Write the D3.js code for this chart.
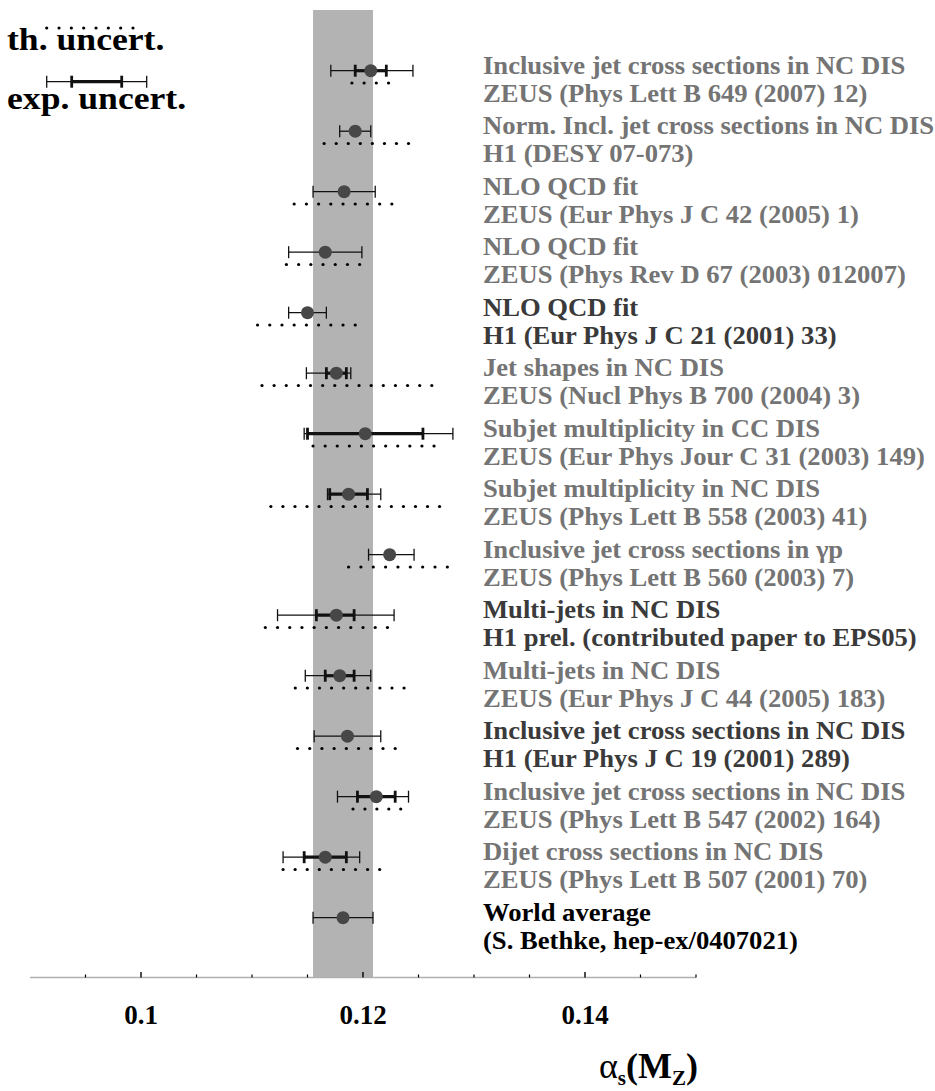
<!DOCTYPE html>
<html>
<head>
<meta charset="utf-8">
<script src="https://cdn.jsdelivr.net/npm/d3@7"></script>
<style>
  body { margin: 0; background: #fff; }
  text { font-family: "Liberation Serif", "Times New Roman", serif; font-weight: bold; }
</style>
</head>
<body>
<div id="chart"></div>
<script>
// measurements, top to bottom
const titles = [
  "Inclusive jet cross sections in NC DIS",
  "Norm. Incl. jet cross sections in NC DIS",
  "NLO QCD fit",
  "NLO QCD fit",
  "NLO QCD fit",
  "Jet shapes in NC DIS",
  "Subjet multiplicity in CC DIS",
  "Subjet multiplicity in NC DIS",
  "Inclusive jet cross sections in \u03b3p",
  "Multi-jets in NC DIS",
  "Multi-jets in NC DIS",
  "Inclusive jet cross sections in NC DIS",
  "Inclusive jet cross sections in NC DIS",
  "Dijet cross sections in NC DIS",
  "World average"
];
const sources = [
  "ZEUS (Phys Lett B 649 (2007) 12)",
  "H1 (DESY 07-073)",
  "ZEUS (Eur Phys J C 42 (2005) 1)",
  "ZEUS (Phys Rev D 67 (2003) 012007)",
  "H1 (Eur Phys J C 21 (2001) 33)",
  "ZEUS (Nucl Phys B 700 (2004) 3)",
  "ZEUS (Eur Phys Jour C 31 (2003) 149)",
  "ZEUS (Phys Lett B 558 (2003) 41)",
  "ZEUS (Phys Lett B 560 (2003) 7)",
  "H1 prel. (contributed paper to EPS05)",
  "ZEUS (Eur Phys J C 44 (2005) 183)",
  "H1 (Eur Phys J C 19 (2001) 289)",
  "ZEUS (Phys Lett B 547 (2002) 164)",
  "ZEUS (Phys Lett B 507 (2001) 70)",
  "(S. Bethke, hep-ex/0407021)"
];
const rowKind = ["zeus", "h1new", "zeus", "zeus", "h1", "zeus", "zeus", "zeus",
  "zeus", "h1", "zeus", "h1", "zeus", "zeus", "average"];

const alphaS = [0.1207, 0.1193, 0.1183, 0.1166, 0.1150, 0.1176, 0.1202, 0.1187,
  0.1224, 0.1176, 0.1179, 0.1186, 0.1212, 0.1166, 0.1182];
// total experimental uncertainty (outer thin bar)
const expLow = [0.1171, 0.1179, 0.1155, 0.1133, 0.1133, 0.1149, 0.1147, 0.1168,
  0.1205, 0.1123, 0.1148, 0.1156, 0.1177, 0.1128, 0.1155];
const expHigh = [0.1245, 0.1207, 0.1211, 0.1199, 0.1167, 0.1189, 0.1281, 0.1216,
  0.1246, 0.1228, 0.1207, 0.1216, 0.1241, 0.1197, 0.1209];
// statistical part (inner thick bar), null when not shown
const statLow = [0.1193, null, null, null, null, 0.1167, 0.1150, 0.1170,
  null, 0.1158, 0.1166, null, 0.1195, 0.1147, null];
const statHigh = [0.1221, null, null, null, null, 0.1185, 0.1254, 0.1204,
  null, 0.1192, 0.1192, null, 0.1229, 0.1185, null];
// theoretical uncertainty (dotted)
const thLow = [0.1190, 0.1165, 0.1138, 0.1131, 0.1105, 0.1109, 0.1155, 0.1117,
  0.1187, 0.1112, 0.1139, 0.1141, 0.1191, 0.1128, null];
const thHigh = [0.1223, 0.1241, 0.1226, 0.1197, 0.1193, 0.1262, 0.1264, 0.1269,
  0.1276, 0.1222, 0.1237, 0.1229, 0.1234, 0.1215, null];

const majorTicks = [0.1, 0.12, 0.14];
const minorTicks = [0.095, 0.105, 0.11, 0.115, 0.125, 0.13, 0.135, 0.145, 0.15];

const width = 935,
  height = 1091;

const svg = d3
  .select("#chart")
  .append("svg")
  .attr("width", width)
  .attr("height", height);

const x = d3.scaleLinear().domain([0.09, 0.15]).range([30, 696]);
const y = d3
  .scalePoint()
  .domain(d3.range(titles.length))
  .range([70.7, 917.7]);
const axisY = 977.5;

const labelColor = d3
  .scaleOrdinal()
  .domain(["zeus", "h1new", "h1", "average"])
  .range(["#747474", "#747474", "#3a3a3a", "#000"]);

// world average band
const avg = alphaS.length - 1;
svg
  .append("rect")
  .attr("x", x(expLow[avg]))
  .attr("y", 10)
  .attr("width", x(expHigh[avg]) - x(expLow[avg]))
  .attr("height", axisY - 10)
  .style("fill", "#b3b3b3");

// axis
svg
  .append("line")
  .attr("x1", x.range()[0])
  .attr("x2", x.range()[1])
  .attr("y1", axisY)
  .attr("y2", axisY)
  .style("stroke", "#b0b0b0")
  .style("stroke-width", 1.5);

svg
  .selectAll("line.minor")
  .data(minorTicks)
  .join("line")
  .attr("class", "minor")
  .attr("x1", (d) => x(d))
  .attr("x2", (d) => x(d))
  .attr("y1", axisY - 3)
  .attr("y2", axisY)
  .style("stroke", "#000")
  .style("stroke-width", 1.2);

svg
  .selectAll("line.major")
  .data(majorTicks)
  .join("line")
  .attr("class", "major")
  .attr("x1", (d) => x(d))
  .attr("x2", (d) => x(d))
  .attr("y1", axisY - 5.5)
  .attr("y2", axisY)
  .style("stroke", "#000")
  .style("stroke-width", 1.4);

svg
  .selectAll("text.tick")
  .data(majorTicks)
  .join("text")
  .attr("class", "tick")
  .attr("x", (d) => x(d))
  .attr("y", 1024)
  .attr("text-anchor", "middle")
  .style("font-size", "27px")
  .text((d) => d3.format("")(d));

const axisTitle = svg
  .append("text")
  .attr("x", 698)
  .attr("y", 1078)
  .attr("text-anchor", "end")
  .style("font-size", "36px");
axisTitle.append("tspan").style("font-weight", "normal").text("\u03b1");
axisTitle.append("tspan").attr("dy", 7).style("font-size", "21px").text("s");
axisTitle.append("tspan").attr("dy", -7).text("(M");
axisTitle.append("tspan").attr("dy", 7).style("font-size", "21px").text("Z");
axisTitle.append("tspan").attr("dy", -7).text(")");

// error bar helper
function bar(g, x1, x2, yy, thick) {
  const w = thick ? 3.2 : 1.3;
  g.append("line")
    .attr("x1", x1)
    .attr("x2", x2)
    .attr("y1", yy)
    .attr("y2", yy)
    .style("stroke", "#111")
    .style("stroke-width", w);
  [x1, x2].forEach((cx) => {
    g.append("line")
      .attr("x1", cx)
      .attr("x2", cx)
      .attr("y1", yy - 6)
      .attr("y2", yy + 6)
      .style("stroke", "#111")
      .style("stroke-width", thick ? 2.8 : 1.3);
  });
}

function dots(g, x1, x2, yy) {
  const n = Math.round((x2 - x1) / 12.1) + 1;
  const step = (x2 - x1) / (n - 1);
  g.selectAll(null)
    .data(d3.range(n))
    .join("circle")
    .attr("cx", (k) => x1 + k * step)
    .attr("cy", yy)
    .attr("r", 1.6)
    .style("fill", "#000");
}

const rows = svg
  .selectAll("g.row")
  .data(d3.range(titles.length))
  .join("g")
  .attr("class", "row");

rows.each(function (i) {
  const g = d3.select(this);
  const yy = y(i);
  if (thLow[i] !== null) dots(g, x(thLow[i]), x(thHigh[i]), yy + 12.3);
  bar(g, x(expLow[i]), x(expHigh[i]), yy, false);
  if (statLow[i] !== null) bar(g, x(statLow[i]), x(statHigh[i]), yy, true);
  g.append("circle")
    .attr("cx", x(alphaS[i]))
    .attr("cy", yy)
    .attr("r", 6.5)
    .style("fill", "#474747");

  g.append("text")
    .attr("transform", `translate(483,${yy + 3}) scale(1.065,1)`)
    .style("font-size", "25px")
    .style("fill", labelColor(rowKind[i]))
    .text(titles[i]);
  g.append("text")
    .attr("transform", `translate(483,${yy + 31}) scale(1.065,1)`)
    .style("font-size", "25px")
    .style("fill", labelColor(rowKind[i]))
    .text(sources[i]);
});

// legend
const legend = svg.append("g").attr("class", "legend");
legend
  .append("text")
  .attr("transform", "translate(7,50) scale(1.15,1)")
  .style("font-size", "31px")
  .text("th. uncert.");
legend
  .append("text")
  .attr("transform", "translate(7,109) scale(1.15,1)")
  .style("font-size", "31px")
  .text("exp. uncert.");
dots(legend, 46.7, 133, 28);
bar(legend, 46.7, 146.7, 81.7, false);
bar(legend, 71.7, 121.7, 81.7, true);
</script>
</body>
</html>
